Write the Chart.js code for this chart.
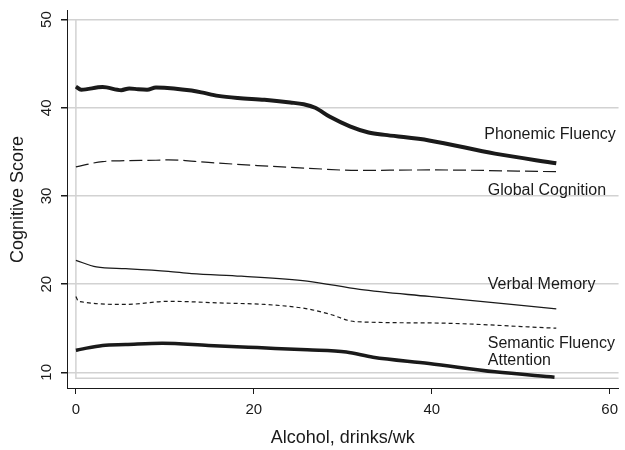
<!DOCTYPE html>
<html>
<head>
<meta charset="utf-8">
<script src="https://cdn.jsdelivr.net/npm/chart.js@4"></script>
<style>
  html, body { margin: 0; padding: 0; background: #fff; }
  #wrap { width: 625px; height: 450px; }
</style>
</head>
<body>
<div id="wrap"><canvas id="c"></canvas></div>
<script>
// values
const phonemicX = [0, 0.6, 3, 5.1, 6, 7, 8, 9, 11, 13, 14.1, 16, 18.2, 21.2, 24.1, 25.6, 26.9, 28.5, 30.8, 32.9, 35, 39.7, 47.1, 54];
const phonemicY = [42.4, 42.05, 42.35, 42.0, 42.2, 42.1, 42.05, 42.3, 42.2, 41.95, 41.75, 41.35, 41.1, 40.9, 40.6, 40.4, 40.0, 39.0, 37.9, 37.2, 36.9, 36.3, 34.8, 33.7];

const globalX = [0, 3, 5.6, 9, 10.4, 14.9, 20.4, 26, 31.6, 39.7, 54];
const globalY = [33.3, 33.9, 34.0, 34.05, 34.1, 33.8, 33.45, 33.15, 32.9, 32.95, 32.75];

const verbalX = [0, 2.3, 5.6, 10.4, 13, 18.6, 26, 31.9, 39.7, 54];
const verbalY = [22.7, 21.95, 21.75, 21.45, 21.2, 20.9, 20.35, 19.4, 18.6, 17.2];

const semanticX = [0, 0.3, 5.6, 10.4, 16.7, 21.2, 26, 28.5, 31.4, 39.7, 54];
const semanticY = [18.6, 18.05, 17.7, 18.05, 17.85, 17.7, 17.2, 16.6, 15.75, 15.6, 15.0];

const attentionX = [0, 0.5, 3, 5.6, 9.7, 14.9, 20.4, 26, 30.4, 33.4, 39.7, 47.1, 53.8];
const attentionY = [12.5, 12.6, 13.05, 13.15, 13.3, 13.05, 12.8, 12.55, 12.3, 11.7, 11.0, 10.05, 9.45];

const xTicks = [0, 20, 40, 60];
const yTicks = [10, 20, 30, 40, 50];

// end labels, in data coordinates (left edge x, middle y)
const seriesLabels = ["Phonemic Fluency", "Global Cognition", "Verbal Memory", "Semantic Fluency", "Attention"];
const labelX = [45.9, 46.3, 46.3, 46.3, 46.3];
const labelY = [36.97, 30.6, 19.93, 13.25, 11.36];

const FONT = "'Liberation Sans', Arial, Helvetica, sans-serif";
const INK = "#1a1a1a";
const GRID = "#d2d2d2";

function pts(xs, ys) {
    return xs.map((x, i) => ({ x: x, y: ys[i] }));
}

function line(label, xs, ys, width, dash) {
    return {
        label,
        data: pts(xs, ys),
        borderColor: INK,
        borderWidth: width,
        borderDash: dash || [],
        pointRadius: 0,
        cubicInterpolationMode: "monotone",
        fill: false,
    };
}

// gray plot-region frame (left side at x=0, bottom just under the data)
const regionFrame = {
    id: "regionFrame",
    beforeDatasetsDraw(chart) {
        const { ctx, scales: { x, y }, chartArea } = chart;
        const left = x.getPixelForValue(0);
        const top = y.getPixelForValue(50);
        const bottom = y.getPixelForValue(9.33);
        ctx.save();
        ctx.strokeStyle = GRID;
        ctx.lineWidth = 1.5;
        ctx.beginPath();
        ctx.moveTo(left, top);
        ctx.lineTo(left, bottom);
        ctx.lineTo(chartArea.right, bottom);
        ctx.stroke();
        ctx.restore();
    },
};

// rotated y tick labels + series labels
const textLayer = {
    id: "textLayer",
    afterDraw(chart) {
        const { ctx, scales: { x, y } } = chart;
        ctx.save();
        ctx.fillStyle = INK;
        ctx.font = "15px " + FONT;
        ctx.textAlign = "center";
        ctx.textBaseline = "middle";
        yTicks.forEach((v) => {
            ctx.save();
            ctx.translate(47, y.getPixelForValue(v));
            ctx.rotate(-Math.PI / 2);
            ctx.fillText(String(v), 0, 0);
            ctx.restore();
        });
        ctx.font = "16px " + FONT;
        ctx.textAlign = "left";
        seriesLabels.forEach((t, i) => {
            ctx.fillText(t, x.getPixelForValue(labelX[i]), y.getPixelForValue(labelY[i]));
        });
        ctx.restore();
    },
};

new Chart(document.getElementById("c"), {
    type: "line",
    data: {
        datasets: [
            line("Phonemic Fluency", phonemicX, phonemicY, 4),
            line("Global Cognition", globalX, globalY, 1.2, [13, 5]),
            line("Verbal Memory", verbalX, verbalY, 1.3),
            line("Semantic Fluency", semanticX, semanticY, 1.2, [4, 3]),
            line("Attention", attentionX, attentionY, 3.5),
        ],
    },
    options: {
        responsive: true,
        maintainAspectRatio: false,
        animation: false,
        layout: { padding: { top: 4, right: 0, bottom: 0, left: 0 } },
        plugins: {
            legend: { display: false },
            tooltip: { enabled: false },
        },
        scales: {
            x: {
                type: "linear",
                min: -1,
                max: 61,
                afterBuildTicks: (s) => { s.ticks = xTicks.map((v) => ({ value: v })); },
                afterFit: (s) => { s.height = 62; },
                border: { color: INK, width: 1 },
                grid: { drawOnChartArea: false, drawTicks: true, tickLength: 6, tickColor: INK },
                ticks: { color: INK, font: { family: FONT, size: 15 }, padding: 7, maxRotation: 0 },
                title: {
                    display: true,
                    text: "Alcohol, drinks/wk",
                    color: INK,
                    font: { family: FONT, size: 18 },
                    padding: { top: 0, bottom: 1 },
                },
            },
            y: {
                min: 8.22,
                max: 51,
                afterBuildTicks: (s) => { s.ticks = yTicks.map((v) => ({ value: v })); },
                afterFit: (s) => { s.width = 67; },
                border: { color: INK, width: 1 },
                grid: { color: GRID, lineWidth: 1.5, tickLength: 6, tickColor: INK },
                ticks: { color: "rgba(0,0,0,0)", font: { family: FONT, size: 13 } },
                title: {
                    display: true,
                    text: "Cognitive Score",
                    color: INK,
                    font: { family: FONT, size: 18 },
                    padding: { top: 7, bottom: 0 },
                },
            },
        },
    },
    plugins: [regionFrame, textLayer],
});
</script>
</body>
</html>
